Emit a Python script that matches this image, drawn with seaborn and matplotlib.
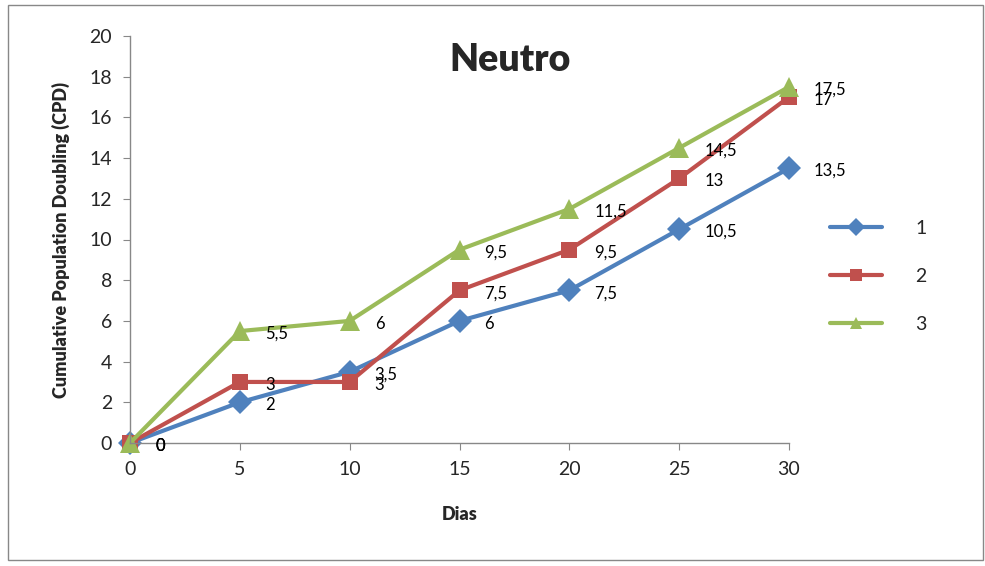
import matplotlib
matplotlib.use("Agg")
import matplotlib.pyplot as plt
import seaborn as sns
import pandas as pd
from matplotlib.patches import Rectangle

dias = [0, 5, 10, 15, 20, 25, 30]
serie_1 = [0, 2, 3.5, 6, 7.5, 10.5, 13.5]
serie_2 = [0, 3, 3, 7.5, 9.5, 13, 17]
serie_3 = [0, 5.5, 6, 9.5, 11.5, 14.5, 17.5]
series_names = ["1", "2", "3"]
colors = ["#4F81BD", "#C0504D", "#9BBB59"]

rows = []
for name, vals in zip(series_names, [serie_1, serie_2, serie_3]):
    for d, v in zip(dias, vals):
        rows.append({"Dias": d, "CPD": v, "Serie": name})
df = pd.DataFrame(rows)

sns.set_style("white")
plt.rcParams['font.family'] = ['Lato', 'DejaVu Sans']

fig = plt.figure(figsize=(9.85, 5.66), dpi=100)
ax = fig.add_axes([130/985, 1-443/566, (789-130)/985, (443-36)/566])

sns.lineplot(data=df, x="Dias", y="CPD", hue="Serie", style="Serie",
             palette=dict(zip(series_names, colors)),
             markers={"1": "D", "2": "s", "3": "^"}, dashes=False,
             linewidth=3, markersize=12, markeredgewidth=0, ax=ax)
for line in ax.lines:
    line.set_clip_on(False)
    if line.get_marker() == "^":
        line.set_markersize(14)

for name, vals, c in zip(series_names, [serie_1, serie_2, serie_3], colors):
    for d, v in zip(dias, vals):
        lab = ("%g" % v).replace(".", ",")
        ax.annotate(lab, (d, v), xytext=(18, -2), textcoords="offset points",
                    ha="left", va="center", fontsize=12, color="black")

ax.set_xlim(0, 30)
ax.set_ylim(0, 20)
ax.set_xticks(dias)
ax.set_yticks(range(0, 21, 2))
ax.tick_params(axis="both", labelsize=14, length=5, color="#888888", direction="out",
               bottom=True, left=True, pad=8)
for s in ["top", "right"]:
    ax.spines[s].set_visible(False)
for s in ["left", "bottom"]:
    ax.spines[s].set_color("#888888")
    ax.spines[s].set_linewidth(1)
ax.set_xlabel("Dias", fontsize=13, fontweight="heavy", labelpad=20)
ax.set_ylabel("Cumulative Population Doubling (CPD)", fontsize=13, fontweight="heavy", labelpad=14)

fig.text(510/985, 1-60/566, "Neutro", fontsize=27, fontweight="heavy", ha="center", va="center")

leg = ax.legend(loc="center left", bbox_to_anchor=(1.035, 0.41), frameon=False,
                fontsize=14, handlelength=2.7, labelspacing=1.6, handletextpad=1.7,
                title=None)
for h in leg.legend_handles:
    h.set_markersize(9)

fig.patches.append(Rectangle((8/985, 1-560/566), 975/985, 555/566, transform=fig.transFigure,
                             fill=False, edgecolor="#888888", linewidth=1))

fig.savefig("out.png", dpi=100)
